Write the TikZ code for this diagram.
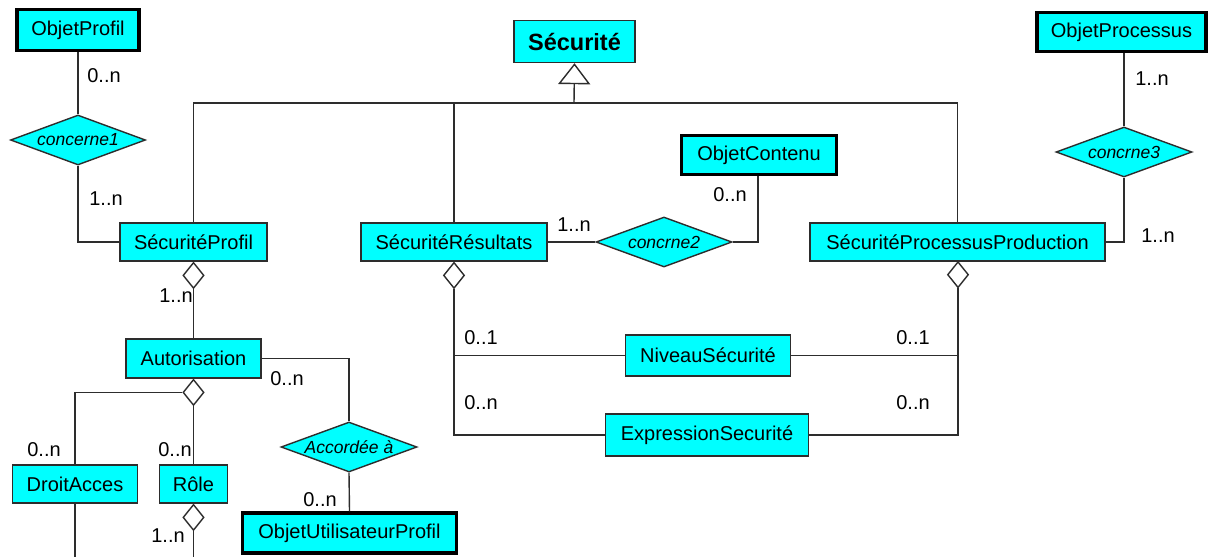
\documentclass[tikz,border=0pt]{standalone}
\usepackage{fontspec}
\setmainfont{Liberation Sans}
\usetikzlibrary{shapes.geometric,arrows.meta}
\definecolor{boxcyan}{RGB}{0,255,255}
\definecolor{linegray}{RGB}{45,45,45}
\tikzset{
  cls/.style={draw=linegray, fill=boxcyan, line width=1.4pt, inner sep=0pt, anchor=center,
    font=\fontsize{20}{23}\selectfont},
  ext/.style={cls, draw=black, line width=3.4pt},
  rel/.style={diamond, draw=linegray, fill=boxcyan, line width=1.4pt, inner sep=0pt, aspect=2.7,
    font=\fontsize{17.5}{20}\selectfont\itshape},
  agg/.style={diamond, draw=linegray, fill=white, line width=1.4pt, inner sep=0pt,
    minimum width=21pt, minimum height=26pt},
  conn/.style={draw=linegray, line width=1.4pt},
  card/.style={inner sep=0pt, font=\fontsize{20}{23}\selectfont}
}
\begin{document}
\begin{tikzpicture}[x=1pt,y=-1pt]
\useasboundingbox[fill=white] (0,0) rectangle (1209,557);
% classes
\node[ext, minimum width=122pt, minimum height=41pt] (objprofil) at (78,30) {ObjetProfil};
\node[cls, minimum width=147pt, minimum height=38pt] (secprofil) at (193.5,242) {SécuritéProfil};
\node[cls, minimum width=121pt, minimum height=42pt, font=\fontsize{23.5}{26}\selectfont\bfseries] (secu) at (574.5,41.5) {Sécurité};
\node[cls, minimum width=186pt, minimum height=38pt] (secres) at (454,242) {SécuritéRésultats};
\node[ext, minimum width=155pt, minimum height=39pt] (objcont) at (759,155) {ObjetContenu};
\node[cls, minimum width=295pt, minimum height=38pt] (secproc) at (957.5,242) {SécuritéProcessusProduction};
\node[ext, minimum width=169pt, minimum height=39pt] (objproc) at (1121.5,32) {ObjetProcessus};
\node[cls, minimum width=135pt, minimum height=39pt] (autor) at (193.5,358.5) {Autorisation};
\node[cls, minimum width=125pt, minimum height=38pt] (droit) at (75,484) {DroitAcces};
\node[cls, minimum width=68pt, minimum height=38pt] (role) at (193.5,484) {Rôle};
\node[ext, minimum width=214pt, minimum height=40pt] (objutil) at (349.5,533) {ObjetUtilisateurProfil};
\node[cls, minimum width=165pt, minimum height=41pt] (niveau) at (708,355.5) {NiveauSécurité};
\node[cls, minimum width=203pt, minimum height=42pt] (expr) at (707,435) {ExpressionSecurité};
% relationship diamonds
\node[rel, minimum width=135pt, minimum height=50pt] (c1) at (78,140) {concerne1};
\node[rel, minimum width=136pt, minimum height=50pt] (c2) at (664,242) {concrne2};
\node[rel, minimum width=136pt, minimum height=50pt] (c3) at (1124,152) {concrne3};
\node[rel, minimum width=136pt, minimum height=50pt] (acc) at (349,447) {Accordée à};
% aggregation diamonds
\node[agg, anchor=north] (aggsp) at (secprofil.south) {};
\node[agg, anchor=north] (aggsr) at (secres.south) {};
\node[agg, anchor=north] (aggspp) at (958,261) {};
\node[agg, anchor=north] (aggaut) at (autor.south) {};
\node[agg, anchor=north] (aggrole) at (role.south) {};
% free ends
\coordinate (gen) at (574,103);
\coordinate (droitend) at (75,557);
\coordinate (roleend) at (193.5,557);
% generalisation
\draw[conn] (secprofil.north) |- (gen) -| (secproc.north);
\draw[conn] (secres.north) -- (secres.north |- gen);
\draw[conn, -{Triangle[open, length=21pt, width=32pt, line width=1.4pt]}] (gen) -- (secu.south);
% associations
\draw[conn] (c1.north) -- (c1.north |- objprofil.south);
\draw[conn] (c1.south) |- (secprofil.west);
\draw[conn] (aggsp.south) -- (autor.north);
\draw[conn] (autor.east) -| (acc.north);
\draw[conn] (acc.south) -- (objutil.north);
\draw[conn] (aggaut.west) -| (droit.north);
\draw[conn] (aggaut.south) -- (role.north);
\draw[conn] (droit.south) -- (droitend);
\draw[conn] (aggrole.south) -- (roleend);
\draw[conn] (secres.east) -- (c2.west);
\draw[conn] (c2.east) -| (objcont.south -| 758,0);
\draw[conn] (secproc.east) -| (c3.south);
\draw[conn] (c3.north) -- (c3.north |- objproc.south);
\draw[conn] (aggsr.south) |- (expr.west);
\draw[conn] (aggsr.south |- niveau.west) -- (niveau.west);
\draw[conn] (aggspp.south) |- (expr.east);
\draw[conn] (aggspp.south |- niveau.east) -- (niveau.east);
% cardinalities
\node[card] (k1) at (104,76) {0..n};
\node[card] (k2) at (106,199) {1..n};
\node[card] (k3) at (176,296) {1..n};
\node[card] (k4) at (287,379) {0..n};
\node[card] (k5) at (44,450) {0..n};
\node[card] (k6) at (175,450) {0..n};
\node[card] (k7) at (320,500) {0..n};
\node[card] (k8) at (168,536) {1..n};
\node[card] (k9) at (574,225) {1..n};
\node[card] (k10) at (730,195) {0..n};
\node[card] (k11) at (1152,79) {1..n};
\node[card] (k12) at (1158,236) {1..n};
\node[card] (k13) at (481,338) {0..1};
\node[card] (k14) at (913,338) {0..1};
\node[card] (k15) at (481,403) {0..n};
\node[card] (k16) at (913,403) {0..n};
\end{tikzpicture}
\end{document}
